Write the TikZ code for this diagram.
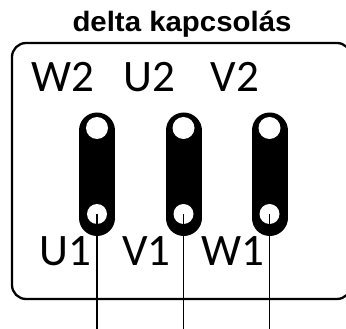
\documentclass[tikz,border=0pt]{standalone}
\usepackage{fontspec}
\setmainfont{Carlito}
\newfontfamily\titlefont{Liberation Sans}
\begin{document}
\begin{tikzpicture}[x=1pt,y=-1pt]
\tikzstyle{frame}=[draw,line width=2.3pt,rounded corners=14pt]
\tikzstyle{bar} = [draw,line width=36pt,line cap=round]
\tikzstyle{hole} = [shape=circle,fill=white,inner sep=0pt,minimum size=22pt]
\tikzstyle{smallhole} = [hole,minimum size=20pt]
\tikzstyle{terminal} = [font=\fontsize{45}{45}\selectfont,anchor=base,inner sep=0pt]
\tikzstyle{lead} = [draw,line width=1.5pt]
\useasboundingbox (0,0) rectangle (346,329);

\node[font=\titlefont\bfseries\fontsize{28}{28}\selectfont,anchor=base,inner sep=0pt,xscale=1.05] (title) at (182,32) {delta kapcsolás};
\draw[frame] (12,43) rectangle (351,299);

\draw[bar] (97,130.5) -- (97,218);
\draw[bar] (183.5,130.5) -- (183.5,218);
\draw[bar] (269.5,130.5) -- (269.5,218);

\draw (97,128) node[hole] (w2h) {};
\draw (183.5,128) node[hole] (u2h) {};
\draw (269.5,128) node[hole] (v2h) {};
\draw (97,214) node[smallhole] (u1h) {};
\draw (183.5,214) node[smallhole] (v1h) {};
\draw (269.5,214) node[smallhole] (w1h) {};

\draw (62.5,92) node[terminal] (w2) {W2};
\draw (149,92) node[terminal] (u2) {U2};
\draw (235,92) node[terminal] (v2) {V2};
\draw (65,265) node[terminal] (u1) {U1};
\draw (146.5,265) node[terminal] (v1) {V1};
\draw (232.5,265) node[terminal] (w1) {W1};

\coordinate (u1end) at (97,329);
\coordinate (v1end) at (183.5,329);
\coordinate (w1end) at (269.5,329);
\draw[lead] (u1h.center) -- (u1end);
\draw[lead] (v1h.center) -- (v1end);
\draw[lead] (w1h.center) -- (w1end);
\end{tikzpicture}
\end{document}
